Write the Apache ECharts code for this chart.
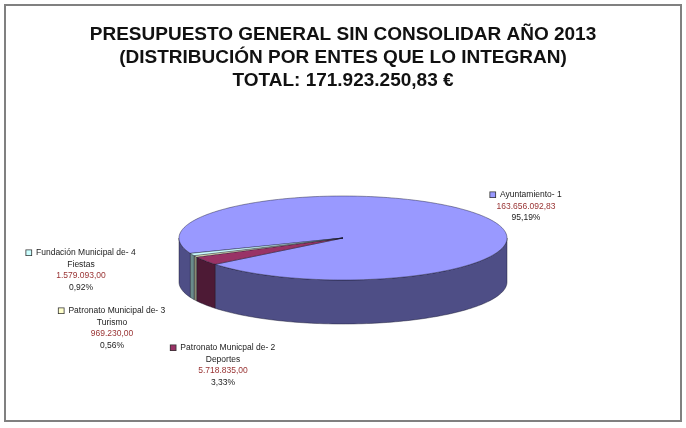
<!DOCTYPE html>
<html>
<head>
<meta charset="utf-8">
<style>
  html, body { margin: 0; padding: 0; background: #fff; }
  #chart { width: 686px; height: 428px; }
</style>
</head>
<body>
<div id="chart"></div>
<script src="https://cdn.jsdelivr.net/npm/echarts@6/dist/echarts.min.js"></script>
<script>
// datos
var titulo = 'PRESUPUESTO GENERAL SIN CONSOLIDAR AÑO 2013\n(DISTRIBUCIÓN POR ENTES QUE LO INTEGRAN)\nTOTAL: 171.923.250,83 €';
var entes = ['Ayuntamiento- 1', 'Patronato Municpal de- 2\nDeportes', 'Patronato Municipal de- 3\nTurismo', 'Fundación Municipal de- 4\nFiestas'];
var importes = [163656092.83, 5718835.00, 969230.00, 1579093.00];

// estilo
var colores = ['#9999ff', '#993366', '#ffffcc', '#ccffff'];
var laterales = ['#4e4e86', '#4d1a35', '#8a8a70', '#6a8a8a'];
var pie = { cx: 343, cy: 238, rx: 164, ry: 42, h: 44, start: 158.5 };
var posEtiquetas = [[526, 189], [223, 342], [112, 305], [81, 247]];

var total = importes.reduce(function (a, b) { return a + b; }, 0);

function fmt(v) {
    var p = v.toFixed(2).split('.');
    return p[0].replace(/\B(?=(\d{3})+(?!\d))/g, '.') + ',' + p[1];
}
function pct(v) {
    return (v / total * 100).toFixed(2).replace('.', ',') + '%';
}

function pt(deg, dy) {
    var r = deg * Math.PI / 180;
    return [pie.cx + pie.rx * Math.cos(r), pie.cy + pie.ry * Math.sin(r) + dy];
}
function arco(a, b, dy) {
    var n = Math.max(2, Math.ceil(Math.abs(b - a) / 1.5));
    var pts = [];
    for (var k = 0; k <= n; k++) pts.push(pt(a + (b - a) * k / n, dy));
    return pts;
}

function renderItem(params, api) {
    var i = params.dataIndex;
    var acc = 0;
    for (var j = 0; j < i; j++) acc += importes[j];
    var a0 = pie.start + acc / total * 360;
    var a1 = a0 + api.value(0) / total * 360;
    var children = [];
    // lateral visible (mitad delantera)
    [0, 360, 720].forEach(function (k) {
        var lo = Math.max(a0, k), hi = Math.min(a1, k + 180);
        if (hi > lo) {
            children.push({
                type: 'polygon',
                shape: { points: arco(lo, hi, 0).concat(arco(hi, lo, pie.h)) },
                style: { fill: laterales[i], stroke: 'rgba(20,20,40,0.7)', lineWidth: 0.6 }
            });
        }
    });
    // cara superior
    children.push({
        type: 'polygon',
        shape: { points: [[pie.cx, pie.cy]].concat(arco(a0, a1, 0)) },
        style: { fill: colores[i], stroke: 'rgba(20,20,40,0.7)', lineWidth: 0.6 }
    });
    return { type: 'group', children: children };
}

var etiquetas = entes.map(function (n, i) {
    return {
        type: 'text',
        x: posEtiquetas[i][0],
        y: posEtiquetas[i][1],
        silent: true,
        style: {
            text: '{k|}  ' + n + '\n{v|' + fmt(importes[i]) + '}\n' + pct(importes[i]),
            align: 'center',
            verticalAlign: 'top',
            fontFamily: 'Liberation Sans',
            fontSize: 8.5,
            lineHeight: 11.5,
            fill: '#222',
            rich: {
                k: { width: 5, height: 5, backgroundColor: colores[i], borderColor: '#333', borderWidth: 0.8 },
                v: { fill: '#993333', color: '#993333', fontFamily: 'Liberation Sans', fontSize: 8.5, lineHeight: 11.5 }
            }
        }
    };
});

var chart = echarts.init(document.getElementById('chart'));
chart.setOption({
    backgroundColor: '#fff',
    animation: false,
    title: {
        text: titulo,
        left: 'center',
        top: 18,
        textStyle: {
            fontFamily: 'Liberation Sans',
            fontWeight: 'bold',
            fontSize: 19,
            lineHeight: 23,
            color: '#111'
        }
    },
    graphic: [{
        type: 'rect',
        shape: { x: 5, y: 5, width: 676, height: 416 },
        style: { fill: 'none', stroke: '#808080', lineWidth: 2 },
        silent: true
    }].concat(etiquetas),
    series: [{
        type: 'custom',
        coordinateSystem: 'none',
        silent: true,
        renderItem: renderItem,
        data: importes
    }]
});
</script>
</body>
</html>
